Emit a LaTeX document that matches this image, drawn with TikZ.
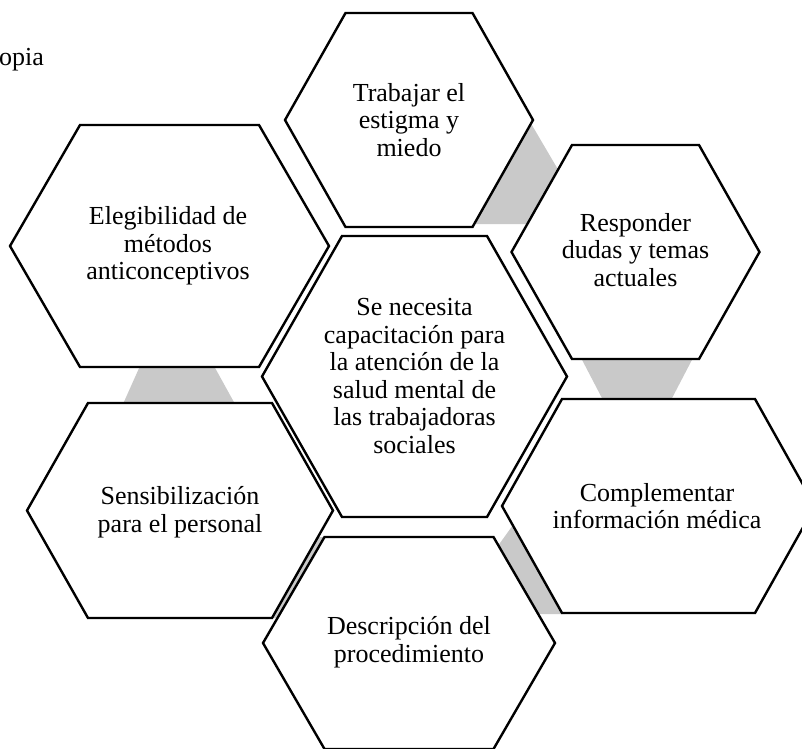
\documentclass[tikz,border=0pt]{standalone}
\usepackage{fontspec}
\setmainfont{Liberation Serif}
\tikzset{
  hexbox/.style={draw=black, fill=white, line width=2.4pt, line join=miter},
  graybar/.style={fill=black!21, draw=none},
  txt/.style={align=center, font=\fontsize{26}{27.5}\selectfont, inner sep=0pt}
}
\newcommand\hexshape[5]{\path[hexbox] ({#1-#3},{#2}) -- ({#1-#4},{#2-#5}) -- ({#1+#4},{#2-#5}) -- ({#1+#3},{#2}) -- ({#1+#4},{#2+#5}) -- ({#1-#4},{#2+#5}) -- cycle;}
\begin{document}
\begin{tikzpicture}[x=1pt,y=-1pt]
\useasboundingbox (0,0) rectangle (802,748);
\begin{scope}
\clip (0,0) rectangle (802,748);
% gray connectors
\path[graybar] (140,366) -- (214,366) -- (235,404) -- (123,404) -- cycle;
\path[graybar] (526,115) -- (563,178) -- (535,224) -- (470,224) -- cycle;
\path[graybar] (579,354) -- (695,354) -- (670,402) -- (604,402) -- cycle;
\path[graybar] (495,550) -- (518,518) -- (565,614) -- (535,614) -- cycle;
\path[graybar] (315,537) -- (340,537) -- (280,618) -- (255,618) -- cycle;
% hexagons
\hexshape{409}{120}{124}{63.5}{107}
\hexshape{635.5}{252}{124}{63.5}{107}
\hexshape{169.5}{246}{159.5}{89.5}{121}
\hexshape{414.5}{376.5}{152.5}{72.5}{140.5}
\hexshape{180}{510.5}{153}{92}{107.5}
\hexshape{658.5}{506}{156.5}{96.5}{107}
\hexshape{409}{643}{146}{84.5}{106}
% texts
\node[txt, anchor=base west] (opia) at (-1,65) {opia};
\node[txt] (trab) at (409,120) {Trabajar el\\estigma y\\miedo};
\node[txt] (resp) at (635.5,250) {Responder\\dudas y temas\\actuales};
\node[txt] (eleg) at (168,246) {Elegibilidad de\\métodos\\anticonceptivos};
\node[txt] (cent) at (414.5,376) {Se necesita\\capacitación para\\la atención de la\\salud mental de\\las trabajadoras\\sociales};
\node[txt] (sens) at (180,512) {Sensibilización\\para el personal};
\node[txt] (comp) at (657,506) {Complementar\\información médica};
\node[txt] (desc) at (409,642) {Descripción del\\procedimiento};
\end{scope}
\end{tikzpicture}
\end{document}
